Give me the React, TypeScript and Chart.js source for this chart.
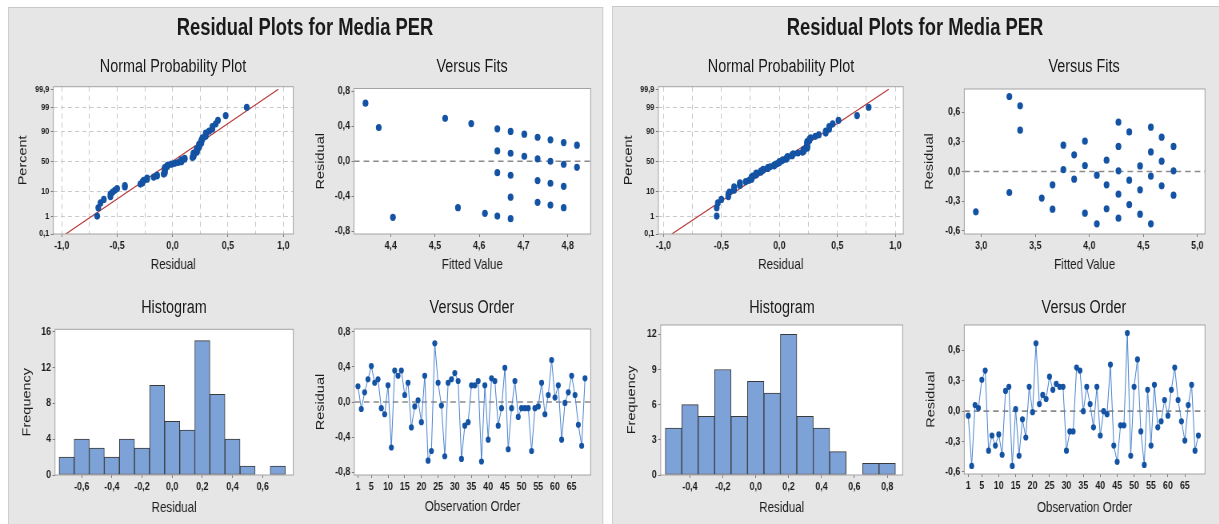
import React, { useEffect, useRef } from "react";
import { Chart, registerables } from "chart.js";

Chart.register(...registerables);

// ---------------- data ----------------
const mainTitle = "Residual Plots for Media PER";
const subTitles = ["Normal Probability Plot", "Versus Fits", "Histogram", "Versus Order"];

// residuals in observation order (left study)
const orderLeftResiduals = [
  0.18, -0.08, 0.11, 0.26, 0.41, 0.22, 0.26, -0.07, -0.14, 0.19,
  -0.52, 0.36, 0.30, 0.36, 0.08, 0.22, -0.29, -0.05, 0.02, -0.23,
  0.30, -0.67, -0.56, 0.67, 0.22, -0.04, -0.62, 0.22, 0.26, 0.33,
  0.24, -0.65, -0.27, -0.23, 0.19, 0.19, 0.24, -0.68, 0.19, -0.43,
  0.27, 0.24, -0.27, -0.07, 0.39, -0.54, -0.07, 0.24, -0.17, -0.07,
  -0.07, -0.07, -0.56, -0.07, -0.05, 0.22, -0.14, 0.08, 0.48, 0.05,
  0.19, -0.43, -0.01, 0.11, 0.30, 0.08, -0.26, -0.50, 0.27,
];
// residuals in observation order (right study)
const orderRightResiduals = [
  -0.045, -0.54, 0.06, 0.03, 0.31, 0.40, -0.39, -0.24, -0.34, -0.23,
  -0.43, 0.20, 0.24, -0.54, 0.02, -0.44, -0.08, -0.26, 0.24, -0.01,
  0.67, 0.07, 0.16, 0.12, 0.34, 0.21, 0.27, 0.24, 0.24, -0.39,
  -0.20, -0.20, 0.43, 0.40, 0.00, 0.24, 0.07, -0.16, 0.24, -0.24,
  0.00, -0.03, 0.46, -0.34, -0.50, -0.14, -0.14, 0.77, -0.44, 0.24,
  0.51, -0.20, -0.53, 0.21, -0.34, 0.26, -0.16, -0.10, 0.11, -0.045,
  0.21, 0.43, 0.11, -0.10, -0.29, 0.06, 0.26, -0.39, -0.24,
];
const orderTicks = [1, 5, 10, 15, 20, 25, 30, 35, 40, 45, 50, 55, 60, 65];

// versus fits (visible points)
const fitsLeftFitted = [
  4.343, 4.373, 4.405, 4.523, 4.552, 4.582, 4.613, 4.641, 4.641, 4.641, 4.641,
  4.671, 4.671, 4.671, 4.671, 4.671, 4.702, 4.702, 4.732, 4.732, 4.732, 4.732,
  4.761, 4.761, 4.761, 4.761, 4.791, 4.791, 4.791, 4.791, 4.821, 4.821,
];
const fitsLeftResiduals = [
  0.663, 0.385, -0.64, 0.49, -0.53, 0.43, -0.594, 0.37, 0.118, -0.13, -0.625,
  0.34, 0.091, -0.16, -0.41, -0.655, 0.309, 0.057, 0.274, 0.027, -0.221, -0.469,
  0.244, 0.0, -0.251, -0.499, 0.213, -0.034, -0.286, -0.53, 0.183, -0.069,
];
const fitsRightFitted = [
  2.95, 3.26, 3.26, 3.36, 3.36, 3.56, 3.66, 3.66, 3.76, 3.76, 3.86, 3.86,
  3.96, 3.96, 3.96, 4.07, 4.07, 4.16, 4.16, 4.16, 4.27, 4.27, 4.27, 4.27, 4.27,
  4.37, 4.37, 4.37, 4.47, 4.47, 4.47, 4.57, 4.57, 4.57, 4.57, 4.67, 4.67, 4.67,
  4.78, 4.78, 4.78,
];
const fitsRightResiduals = [
  -0.409, 0.761, -0.213, 0.666, 0.419, -0.27, -0.135, -0.382, 0.267, 0.02, 0.169, -0.078,
  0.308, 0.061, -0.423, -0.037, -0.531, 0.115, -0.135, -0.379, 0.5, 0.254, 0.007, -0.23, -0.473,
  0.402, -0.088, -0.335, 0.057, -0.186, -0.433, 0.45, 0.199, -0.047, -0.531, 0.348, 0.105, -0.145,
  0.254, 0.007, -0.24,
];
const fitsLeftXTicks = [4.4, 4.5, 4.6, 4.7, 4.8];
const fitsRightXTicks = [3.0, 3.5, 4.0, 4.5, 5.0];
const residTicksLeft = [-0.8, -0.4, 0, 0.4, 0.8];
const residTicksRight = [-0.6, -0.3, 0, 0.3, 0.6];

// histograms
const histLeftCenters = [-0.7, -0.6, -0.5, -0.4, -0.3, -0.2, -0.1, 0, 0.1, 0.2, 0.3, 0.4, 0.5, 0.6, 0.7];
const histLeftCounts = [2, 4, 3, 2, 4, 3, 10, 6, 5, 15, 9, 4, 1, 0, 1];
const histRightCenters = [-0.5, -0.4, -0.3, -0.2, -0.1, 0, 0.1, 0.2, 0.3, 0.4, 0.5, 0.6, 0.7, 0.8];
const histRightCounts = [4, 6, 5, 9, 5, 8, 7, 12, 5, 4, 2, 0, 1, 1];
const histLeftXTicks = [-0.6, -0.4, -0.2, 0, 0.2, 0.4, 0.6];
const histRightXTicks = [-0.4, -0.2, 0, 0.2, 0.4, 0.6, 0.8];
const histLeftYTicks = [0, 4, 8, 12, 16];
const histRightYTicks = [0, 3, 6, 9, 12];

// normal probability plot
const nppPercentTicks = [0.1, 1, 10, 50, 90, 99, 99.9];
const nppResidualTicks = [-1, -0.75, -0.5, -0.25, 0, 0.25, 0.5, 0.75, 1];
const fitLineLeftResidual = [-0.964, 0.955];
const fitLineRightResidual = [-0.927, 0.943];
const fitLinePercent = [0.1, 99.9];

// ---------------- helpers ----------------
const S = 0.8; // the reference figure is horizontally squeezed
const FONT = '"Liberation Sans", Arial, Helvetica, sans-serif';
const TITLE_SIZE = 14.5;
const HALF_LH = (TITLE_SIZE * 1.2) / 2;
const BLUE = "#1453a3";
const LINE_BLUE = "#4a84cf";
const RED = "#b3302e";
const BAR_FILL = "#7ca2d8";
const BAR_EDGE = "#3a3a3a";
const TICK_COLOR = "#7a7a7a";
const TEXT = "#1c1c1c";

function normInv(p: number): number {
  const a = [-3.969683028665376e1, 2.209460984245205e2, -2.759285104469687e2, 1.38357751867269e2, -3.066479806614716e1, 2.506628277459239];
  const b = [-5.447609879822406e1, 1.615858368580409e2, -1.556989798598866e2, 6.680131188771972e1, -1.328068155288572e1];
  const c = [-7.784894002430293e-3, -3.223964580411365e-1, -2.400758277161838, -2.549732539343734, 4.374664141464968, 2.938163982698783];
  const d = [7.784695709041462e-3, 3.224671290700398e-1, 2.445134137142996, 3.754408661907416];
  const pl = 0.02425;
  if (p < pl) {
    const q = Math.sqrt(-2 * Math.log(p));
    return (((((c[0] * q + c[1]) * q + c[2]) * q + c[3]) * q + c[4]) * q + c[5]) / ((((d[0] * q + d[1]) * q + d[2]) * q + d[3]) * q + 1);
  }
  if (p > 1 - pl) {
    const q = Math.sqrt(-2 * Math.log(1 - p));
    return -(((((c[0] * q + c[1]) * q + c[2]) * q + c[3]) * q + c[4]) * q + c[5]) / ((((d[0] * q + d[1]) * q + d[2]) * q + d[3]) * q + 1);
  }
  const q = p - 0.5;
  const r = q * q;
  return ((((((a[0] * r + a[1]) * r + a[2]) * r + a[3]) * r + a[4]) * r + a[5]) * q) / (((((b[0] * r + b[1]) * r + b[2]) * r + b[3]) * r + b[4]) * r + 1);
}

const comma1 = (v: number) => v.toFixed(1).replace(".", ",");
const pctLabel = (p: number) => (Number.isInteger(p) ? String(p) : String(p).replace(".", ","));

type Frame = { l: number; r: number; t: number; b: number; yTitleX: number; xTitleY: number };

function geom(f: Frame) {
  const left = Math.floor(f.yTitleX / S - HALF_LH);
  const right = Math.ceil(f.r / S + 14);
  const top = Math.floor(f.t - 12);
  const bottom = Math.ceil(f.xTitleY + HALF_LH);
  return {
    left,
    top,
    width: right - left,
    height: bottom - top,
    yAxisW: f.l / S - left,
    xAxisH: bottom - f.b,
    padTop: f.t - top,
    padRight: right - f.r / S,
  };
}

type AxisOpts = {
  horizontal: boolean;
  size: number;
  title: string;
  min: number;
  max: number;
  values: number[];
  labels: string[];
  fontSize?: number;
  grid?: any;
  dash?: number[];
};

function axis(o: AxisOpts) {
  return {
    type: "linear",
    position: o.horizontal ? "bottom" : "left",
    min: o.min,
    max: o.max,
    offset: false,
    title: { display: true, text: o.title, color: TEXT, font: { size: TITLE_SIZE, family: FONT }, padding: 0 },
    ticks: {
      autoSkip: false,
      maxRotation: 0,
      minRotation: 0,
      padding: 2,
      color: TEXT,
      font: { size: o.fontSize ?? 11, family: FONT, weight: "bold" },
      callback: (_v: number, i: number) => o.labels[i],
    },
    afterBuildTicks: (s: any) => {
      s.ticks = o.values.map((v) => ({ value: v }));
    },
    afterFit: (s: any) => {
      if (o.horizontal) s.height = o.size;
      else s.width = o.size;
    },
    grid: o.grid ?? { drawOnChartArea: false, drawTicks: true, tickLength: 3, tickColor: TICK_COLOR, color: "rgba(0,0,0,0)", offset: false },
    border: { display: false, dash: o.dash ?? [] },
  };
}

const framePlugin = {
  id: "plotFrame",
  beforeDraw(chart: any) {
    const { ctx, chartArea: a } = chart;
    ctx.save();
    ctx.fillStyle = "#ffffff";
    ctx.fillRect(a.left, a.top, a.right - a.left, a.bottom - a.top);
    ctx.restore();
  },
  afterDraw(chart: any) {
    const { ctx, chartArea: a } = chart;
    ctx.save();
    ctx.strokeStyle = "#a2a2a2";
    ctx.lineWidth = 1;
    ctx.strokeRect(a.left, a.top, a.right - a.left, a.bottom - a.top);
    ctx.restore();
  },
};

const zeroLinePlugin = {
  id: "zeroLine",
  beforeDatasetsDraw(chart: any, _args: any, opts: any) {
    if (!opts || !opts.show) return;
    const { ctx, chartArea: a } = chart;
    const y = chart.scales.y.getPixelForValue(0);
    ctx.save();
    ctx.strokeStyle = "#8a8a8a";
    ctx.lineWidth = 1.6;
    ctx.setLineDash([7, 5]);
    ctx.beginPath();
    ctx.moveTo(a.left, y);
    ctx.lineTo(a.right, y);
    ctx.stroke();
    ctx.restore();
  },
};

function baseOptions(g: ReturnType<typeof geom>, zero: boolean, scales: any) {
  return {
    responsive: false,
    animation: false,
    devicePixelRatio: 1,
    events: [],
    layout: { padding: { left: 0, top: g.padTop, right: g.padRight, bottom: 0 } },
    plugins: { legend: { display: false }, tooltip: { enabled: false }, zeroLine: { show: zero } },
    scales,
  };
}

function nppChart(f: Frame, resid: number[], fitResid: number[], xMin: number, xMax: number) {
  const g = geom(f);
  const n = resid.length;
  const sorted = [...resid].sort((a, b) => a - b);
  // Minitab plotting positions (median ranks) for the sorted residuals
  const points = sorted.map((x, i) => ({ x, y: normInv((i + 1 - 0.3) / (n + 0.4)) }));
  const fit = fitResid.map((x, i) => ({ x, y: normInv(fitLinePercent[i] / 100) }));
  const xLabels = nppResidualTicks.map((v) => (Math.abs(v * 2 - Math.round(v * 2)) < 1e-9 ? comma1(v) : ""));
  const gridColor = "#c9c9c9";
  const yVals = nppPercentTicks.map((p) => normInv(p / 100));
  return {
    g,
    config: {
      type: "scatter",
      data: {
        datasets: [
          { type: "scatter", data: points, pointRadius: 3.6, backgroundColor: BLUE, borderWidth: 0 },
          { type: "line", data: fit, borderColor: RED, borderWidth: 1.2, pointRadius: 0, fill: false, tension: 0 },
        ],
      },
      options: baseOptions(g, false, {
        x: axis({
          horizontal: true, size: g.xAxisH, title: "Residual", min: xMin, max: xMax,
          values: nppResidualTicks, labels: xLabels, dash: [5, 4],
          grid: {
            drawOnChartArea: true, drawTicks: true, tickLength: 3, lineWidth: 1,
            color: gridColor,
            tickColor: (c: any) => (xLabels[c.index] ? TICK_COLOR : "rgba(0,0,0,0)"),
          },
        }),
        y: axis({
          horizontal: false, size: g.yAxisW, title: "Percent", min: normInv(0.001), max: 3.2,
          values: yVals, labels: nppPercentTicks.map(pctLabel), fontSize: 9, dash: [5, 4],
          grid: {
            drawOnChartArea: true, drawTicks: true, tickLength: 3, lineWidth: 1,
            color: (c: any) => (c.index === 0 || c.index === nppPercentTicks.length - 1 ? "rgba(0,0,0,0)" : gridColor),
            tickColor: TICK_COLOR,
          },
        }),
      }),
      plugins: [framePlugin, zeroLinePlugin],
    },
  };
}

function fitsChart(f: Frame, fitted: number[], resid: number[], xTicks: number[], yTicks: number[], xr: number[], yr: number[]) {
  const g = geom(f);
  return {
    g,
    config: {
      type: "scatter",
      data: { datasets: [{ data: fitted.map((x, i) => ({ x, y: resid[i] })), pointRadius: 3.6, backgroundColor: BLUE, borderWidth: 0 }] },
      options: baseOptions(g, true, {
        x: axis({ horizontal: true, size: g.xAxisH, title: "Fitted Value", min: xr[0], max: xr[1], values: xTicks, labels: xTicks.map(comma1) }),
        y: axis({ horizontal: false, size: g.yAxisW, title: "Residual", min: yr[0], max: yr[1], values: yTicks, labels: yTicks.map(comma1) }),
      }),
      plugins: [framePlugin, zeroLinePlugin],
    },
  };
}

function histChart(f: Frame, centers: number[], counts: number[], xTicks: number[], yTicks: number[], xr: number[], yMax: number) {
  const g = geom(f);
  const data = centers.map((x, i) => ({ x, y: counts[i] })).filter((d) => d.y > 0);
  return {
    g,
    config: {
      type: "bar",
      data: {
        datasets: [{
          data, backgroundColor: BAR_FILL, borderColor: BAR_EDGE, borderWidth: 1, borderSkipped: false,
          barPercentage: 1, categoryPercentage: 1, grouped: false,
        }],
      },
      options: baseOptions(g, false, {
        x: axis({ horizontal: true, size: g.xAxisH, title: "Residual", min: xr[0], max: xr[1], values: xTicks, labels: xTicks.map(comma1) }),
        y: axis({ horizontal: false, size: g.yAxisW, title: "Frequency", min: 0, max: yMax, values: yTicks, labels: yTicks.map(String) }),
      }),
      plugins: [framePlugin, zeroLinePlugin],
    },
  };
}

function orderChart(f: Frame, resid: number[], yTicks: number[], xr: number[], yr: number[]) {
  const g = geom(f);
  return {
    g,
    config: {
      type: "line",
      data: {
        datasets: [{
          data: resid.map((y, i) => ({ x: i + 1, y })),
          borderColor: LINE_BLUE, borderWidth: 1, tension: 0, fill: false,
          pointRadius: 3.1, pointBackgroundColor: BLUE, pointBorderWidth: 0,
        }],
      },
      options: baseOptions(g, true, {
        x: axis({ horizontal: true, size: g.xAxisH, title: "Observation Order", min: xr[0], max: xr[1], values: orderTicks, labels: orderTicks.map(String) }),
        y: axis({ horizontal: false, size: g.yAxisW, title: "Residual", min: yr[0], max: yr[1], values: yTicks, labels: yTicks.map(comma1) }),
      }),
      plugins: [framePlugin, zeroLinePlugin],
    },
  };
}

// plot frames in final (page) pixels
const F = {
  nppL: { l: 53.3, r: 293.3, t: 86.7, b: 234, yTitleX: 23, xTitleY: 265 },
  fitsL: { l: 354, r: 590.7, t: 88.5, b: 234, yTitleX: 320.7, xTitleY: 265 },
  histL: { l: 55, r: 293.3, t: 329.3, b: 475, yTitleX: 27.5, xTitleY: 508 },
  ordL: { l: 354.3, r: 590.7, t: 329, b: 475, yTitleX: 321.3, xTitleY: 507 },
  nppR: { l: 658.3, r: 903.3, t: 86.7, b: 234, yTitleX: 628.7, xTitleY: 265 },
  fitsR: { l: 964.3, r: 1205, t: 89, b: 234, yTitleX: 930, xTitleY: 265 },
  histR: { l: 660.7, r: 902.7, t: 325, b: 475, yTitleX: 632.5, xTitleY: 508 },
  ordR: { l: 964.3, r: 1205, t: 325, b: 474, yTitleX: 931, xTitleY: 508 },
};

const SPECS = [
  nppChart(F.nppL, orderLeftResiduals, fitLineLeftResidual, -1.076, 1.09),
  fitsChart(F.fitsL, fitsLeftFitted, fitsLeftResiduals, fitsLeftXTicks, residTicksLeft, [4.317, 4.852], [-0.83, 0.83]),
  histChart(F.histL, histLeftCenters, histLeftCounts, histLeftXTicks, histLeftYTicks, [-0.777, 0.803], 16.26),
  orderChart(F.ordL, orderLeftResiduals, residTicksLeft, [-0.1, 70.7], [-0.834, 0.834]),
  nppChart(F.nppR, orderRightResiduals, fitLineRightResidual, -1.043, 1.069),
  fitsChart(F.fitsR, fitsRightFitted, fitsRightResiduals, fitsRightXTicks, residTicksRight, [2.843, 5.071], [-0.634, 0.837]),
  histChart(F.histR, histRightCenters, histRightCounts, histRightXTicks, histRightYTicks, [-0.578, 0.894], 12.8),
  orderChart(F.ordR, orderRightResiduals, residTicksRight, [-0.18, 70.95], [-0.62, 0.85]),
];

const panels = [
  { x: 8, y: 7, w: 595, h: 530 },
  { x: 612, y: 6, w: 620, h: 530 },
];
const mainTitleCenters = [305, 915];
const subTitlePos = [
  { cx: 173, cy: 66, i: 0 }, { cx: 472, cy: 66, i: 1 }, { cx: 174, cy: 307, i: 2 }, { cx: 472, cy: 307, i: 3 },
  { cx: 781, cy: 66, i: 0 }, { cx: 1084, cy: 66, i: 1 }, { cx: 782, cy: 307, i: 2 }, { cx: 1084, cy: 307, i: 3 },
];

export default function App() {
  const refs = useRef<(HTMLCanvasElement | null)[]>([]);
  useEffect(() => {
    Chart.defaults.font.family = FONT;
    Chart.defaults.color = TEXT;
    const charts = SPECS.map((s, i) => new Chart(refs.current[i] as HTMLCanvasElement, s.config as any));
    return () => charts.forEach((c) => c.destroy());
  }, []);

  return (
    <div style={{ position: "absolute", left: 0, top: 0, width: 1219, height: 524, overflow: "hidden", background: "#ffffff" }}>
      <div
        style={{
          position: "absolute", left: 0, top: 0, width: 1219 / S, height: 524,
          transform: `scaleX(${S})`, transformOrigin: "0 0", fontFamily: FONT, color: "#1a1a1a",
        }}
      >
        {panels.map((p, i) => (
          <div key={"p" + i} style={{
            position: "absolute", left: p.x / S, top: p.y, width: p.w / S, height: p.h,
            background: "#e6e6e6", border: "1px solid #c9c9c9", boxSizing: "border-box",
          }} />
        ))}
        {mainTitleCenters.map((cx, i) => (
          <div key={"m" + i} style={{
            position: "absolute", left: cx / S - 300, width: 600, top: 27 - 0.4885 * 23, textAlign: "center",
            fontSize: 23, lineHeight: "23px", fontWeight: 700, whiteSpace: "nowrap",
          }}>{mainTitle}</div>
        ))}
        {subTitlePos.map((t, i) => (
          <div key={"s" + i} style={{
            position: "absolute", left: t.cx / S - 200, width: 400, top: t.cy - 0.4885 * 18, textAlign: "center",
            fontSize: 18, lineHeight: "18px", whiteSpace: "nowrap", zIndex: 2,
          }}>{subTitles[t.i]}</div>
        ))}
        {SPECS.map((s, i) => (
          <canvas
            key={"c" + i}
            ref={(el) => { refs.current[i] = el; }}
            width={s.g.width}
            height={s.g.height}
            style={{ position: "absolute", left: s.g.left, top: s.g.top }}
          />
        ))}
      </div>
    </div>
  );
}
